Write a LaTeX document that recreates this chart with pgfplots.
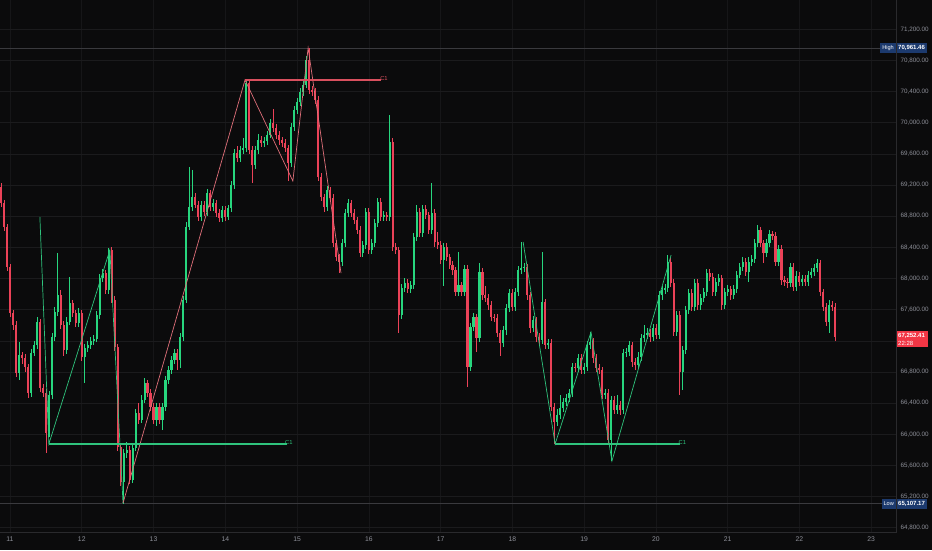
\documentclass[border=0pt]{standalone}
\usepackage{pgfplots}
\usepackage{pgfplotstable}
\pgfplotsset{compat=1.18}
\usepackage{fontspec}
\setmainfont{Liberation Sans}
\definecolor{bg}{HTML}{0B0B0C}
\definecolor{upc}{HTML}{27D67E}
\definecolor{dnc}{HTML}{EB4258}
\definecolor{gridc}{HTML}{1B1B1D}
\definecolor{vgridc}{HTML}{161618}
\definecolor{borderc}{HTML}{2A2A2D}
\definecolor{lblc}{HTML}{8E9099}
\definecolor{zzg}{HTML}{2FC47D}
\definecolor{zzr}{HTML}{E0707A}
\definecolor{c1r}{HTML}{D9505E}
\definecolor{navy}{HTML}{1C3A6E}
\definecolor{lastc}{HTML}{F23645}
\definecolor{hlc}{HTML}{3A3A3E}

\pgfplotstableread{
t o h l c
-3 69175 69230 68920 68969
-2 68969 69010 68610 68661
-1 68661 68700 68100 68147
0 68147 68190 67500 67557
1 67557 67600 67340 67403
2 67403 67450 66730 66786
3 66786 67180 66700 67017
4 67017 67060 66900 66979
5 66979 67030 66800 66863
6 66863 66900 66470 66530
7 66530 67100 66480 67043
8 67043 67200 67000 67146
9 67146 67500 67100 67441
10 67441 67480 66540 66594
11 66594 66650 66480 66530
12 66530 66580 65759 66016
13 66016 66560 65960 66504
14 66504 67300 66450 67249
15 67249 67640 67200 67570
16 67570 68327 67520 67788
17 67788 67850 67350 67403
18 67403 67450 67000 67082
19 67082 67500 67030 67441
20 67441 68019 67400 67685
21 67685 67730 67500 67557
22 67557 67600 67380 67428
23 67428 67620 67380 67557
24 67557 67600 66940 66992
25 66992 67160 66658 67107
26 67107 67200 67050 67146
27 67146 67250 67100 67197
28 67197 67270 67150 67223
29 67223 67580 67180 67531
30 67531 68060 67480 68006
31 68006 68120 67950 68070
32 68070 68110 67800 67852
33 67852 68391 67800 68366
34 68366 68400 67680 67724
35 67724 67770 67070 67120
36 67120 67160 65790 65836
37 65836 65880 65330 65387
38 65387 65810 65107 65759
39 65759 65900 65700 65798
40 65798 65850 65360 65412
41 65412 65880 65370 65823
42 65823 66330 65780 66273
43 66273 66400 66130 66183
44 66183 66500 66140 66440
45 66440 66720 66400 66658
46 66658 66700 66480 66530
47 66530 66580 66300 66350
48 66350 66400 66130 66183
49 66183 66400 66100 66350
50 66350 66400 66130 66183
51 66183 66400 66050 66350
52 66350 66750 66300 66696
53 66696 66880 66650 66825
54 66825 67000 66780 66953
55 66953 67100 66900 67043
56 67043 67090 66820 66953
57 66953 67300 66850 67249
58 67249 67780 67200 67724
59 67724 68720 67680 68661
60 68661 69432 68620 68918
61 68918 69393 68870 69046
62 69046 69100 68900 68944
63 68944 69000 68740 68790
64 68790 69000 68740 68944
65 68944 69000 68800 68854
66 68854 69150 68800 69098
67 69098 69140 68870 68918
68 68918 69020 68870 68969
69 68969 69010 68790 68841
70 68841 68890 68720 68777
71 68777 68930 68720 68879
72 68879 68930 68740 68790
73 68790 68950 68750 68905
74 68905 69250 68860 69200
75 69200 69660 69150 69611
76 69611 69700 69500 69547
77 69547 69700 69500 69650
78 69650 69800 69600 69676
79 69676 70549 69630 70510
80 70510 70540 69600 69650
81 69650 69700 69230 69457
82 69457 69700 69400 69650
83 69650 69850 69600 69778
84 69778 69830 69690 69740
85 69740 69820 69690 69765
86 69765 69900 69720 69842
87 69842 70050 69800 69997
88 69997 70180 69880 69932
89 69932 69980 69790 69842
90 69842 69890 69720 69778
91 69778 69820 69690 69740
92 69740 69790 69620 69676
93 69676 69720 69252 69483
94 69483 70000 69430 69945
95 69945 70220 69900 70164
96 70164 70320 70110 70266
97 70266 70450 70220 70395
98 70395 70540 70340 70485
99 70485 70860 70440 70806
100 70806 70961 70370 70420
101 70420 70470 70340 70395
102 70395 70440 70240 70292
103 70292 70340 69250 69303
104 69303 69350 68990 69046
105 69046 69090 68860 68918
106 68918 69190 68870 69136
107 69136 69180 68980 69033
108 69033 69080 68400 68456
109 68456 68500 68220 68276
110 68276 68320 68070 68212
111 68212 68510 68160 68456
112 68456 68890 68400 68841
113 68841 69020 68790 68969
114 68969 69010 68790 68841
115 68841 68890 68700 68751
116 68751 68790 68570 68623
117 68623 68670 68270 68327
118 68327 68480 68270 68430
119 68430 68900 68380 68854
120 68854 68900 68310 68366
121 68366 68510 68310 68456
122 68456 68760 68400 68712
123 68712 69030 68660 68982
124 68982 69030 68740 68790
125 68790 68870 68740 68815
126 68815 68860 68740 68790
127 68790 70099 68740 69753
128 69753 69800 68350 68404
129 68404 68450 68310 68366
130 68366 68410 67300 67531
131 67531 67930 67480 67878
132 67878 68000 67830 67942
133 67942 67990 67810 67865
134 67865 67970 67810 67916
135 67916 68580 67870 68533
136 68533 68950 68480 68854
137 68854 68900 68530 68584
138 68584 68950 68530 68892
139 68892 68940 68760 68815
140 68815 68860 68570 68623
141 68623 69226 68570 68841
142 68841 68890 68410 68469
143 68469 68600 68380 68430
144 68430 68480 68180 68237
145 68237 68450 67900 68404
146 68404 68450 68220 68276
147 68276 68320 68120 68173
148 68173 68220 68050 68109
149 68109 68150 67770 67826
150 67826 68340 67770 67916
151 67916 67960 67770 67826
152 67826 68170 67770 68122
153 68122 68170 66607 66863
154 66863 67430 66810 67377
155 67377 67560 67320 67505
156 67505 67550 67060 67236
157 67236 68200 67180 68083
158 68083 68130 67730 67788
159 67788 67900 67700 67749
160 67749 67800 67600 67660
161 67660 67710 67450 67505
162 67505 67550 67440 67493
163 67493 67540 67250 67300
164 67300 67340 67000 67172
165 67172 67390 67120 67339
166 67339 67670 67280 67621
167 67621 67870 67570 67814
168 67814 67860 67580 67634
169 67634 67880 67580 67826
170 67826 68160 67780 68109
171 68109 68469 68060 68135
172 68135 68200 68080 68147
173 68147 68190 67730 67788
174 67788 67830 67300 67364
175 67364 67520 67310 67467
176 67467 67510 67190 67249
177 67249 67300 67150 67210
178 67210 68340 67160 67698
179 67698 67740 67090 67146
180 67146 67220 67100 67172
181 67172 67220 66300 66350
182 66350 66400 65875 66157
183 66157 66330 66100 66247
184 66247 66500 66200 66337
185 66337 66470 66290 66414
186 66414 66520 66360 66465
187 66465 66580 66410 66530
188 66530 66920 66480 66863
189 66863 66910 66800 66851
190 66851 67030 66800 66979
191 66979 67030 66770 66825
192 66825 66920 66770 66863
193 66863 67200 66810 67146
194 67146 67313 67090 67184
195 67184 67230 66920 66979
196 66979 67030 66800 66851
197 66851 66900 66770 66825
198 66825 66870 66450 66504
199 66504 66580 66450 66530
200 66530 66580 65870 65926
201 65926 66490 65656 66440
202 66440 66490 66260 66311
203 66311 66500 66260 66375
204 66375 66430 66250 66311
205 66311 67100 66260 67043
206 67043 67110 66990 67056
207 67056 67200 67000 67146
208 67146 67190 66870 66928
209 66928 66980 66830 66889
210 66889 67050 66840 66992
211 66992 67290 66940 67236
212 67236 67400 67190 67274
213 67274 67360 67220 67300
214 67300 67350 67190 67249
215 67249 67420 67200 67364
216 67364 67410 67220 67274
217 67274 67840 67220 67788
218 67788 67910 67730 67852
219 67852 67930 67800 67878
220 67878 68302 67830 68212
221 68212 68260 67890 67942
222 67942 67990 67260 67313
223 67313 67580 67260 67531
224 67531 67580 66504 66799
225 66799 67130 66570 67082
226 67082 67650 67030 67595
227 67595 67870 67550 67814
228 67814 67860 67580 67634
229 67634 67990 67580 67942
230 67942 67990 67600 67660
231 67660 67800 67600 67749
232 67749 67880 67700 67826
233 67826 68120 67780 68070
234 68070 68120 67970 68019
235 68019 68070 67770 67826
236 67826 68010 67780 67955
237 67955 68060 67900 68006
238 68006 68050 67600 67660
239 67660 67880 67610 67826
240 67826 67920 67780 67865
241 67865 67910 67730 67788
242 67788 67920 67740 67865
243 67865 68100 67820 68045
244 68045 68200 68000 68147
245 68147 68270 68100 68212
246 68212 68260 68030 68083
247 68083 68270 67950 68212
248 68212 68300 68160 68250
249 68250 68510 68200 68456
250 68456 68687 68400 68623
251 68623 68660 68400 68456
252 68456 68500 68200 68327
253 68327 68510 68280 68456
254 68456 68620 68400 68571
255 68571 68610 68490 68546
256 68546 68600 68160 68212
257 68212 68430 68160 68379
258 68379 68430 67920 67980
259 67980 68030 67900 67955
260 67955 68000 67880 67942
261 67942 68200 67890 68147
262 68147 68200 67840 67891
263 67891 68090 67840 68032
264 68032 68080 67900 67955
265 67955 68050 67900 67993
266 67993 68040 67900 67955
267 67955 68100 67900 68045
268 68045 68130 68000 68083
269 68083 68190 68030 68135
270 68135 68250 68080 68199
271 68199 68240 67770 67826
272 67826 67870 67580 67634
273 67634 67680 67390 67441
274 67441 67720 67300 67660
275 67660 67710 67580 67634
276 67634 67680 67200 67252
}\candles

\begin{document}
\begin{tikzpicture}
\fill[bg] (0pt,-18pt) rectangle (932pt,532pt);
\begin{axis}[
  at={(0pt,0pt)}, anchor=south west,
  scale only axis, width=896pt, height=532pt,
  xmin=-3.34, xmax=296.3, ymin=64745, ymax=71576,
  axis line style={draw=none},
  clip mode=individual,
  major tick length=0pt,
  xtick={0,24,...,288},
  xticklabels={11,12,13,14,15,16,17,18,19,20,21,22,23},
  ytick={64800,65200,65600,66000,66400,66800,67600,68000,68400,68800,69200,69600,70000,70400,70800,71200},
  extra y ticks={67200},
  extra y tick labels={},
  extra y tick style={grid=major},
  scaled y ticks=false,
  yticklabel pos=right,
  xmajorgrids, ymajorgrids,
  x grid style={vgridc, line width=0.6pt},
  y grid style={gridc, line width=0.6pt},
  /pgf/number format/.cd, fixed, fixed zerofill, precision=2, 1000 sep={,}, assume math mode=true,
  /pgfplots/.cd,
  yticklabel style={font=\fontsize{6.3}{7.5}\selectfont, text=lblc, anchor=west, xshift=1pt},
  xticklabel style={font=\fontsize{6.8}{8}\selectfont, text=lblc, yshift=-1.5pt},
]
% high / low reference lines
\addplot[hlc, line width=0.6pt, forget plot] coordinates {(-3.34,70961.46) (296.3,70961.46)};
\addplot[hlc, line width=0.6pt, forget plot] coordinates {(-3.34,65107.17) (296.3,65107.17)};
% wicks up
\addplot[draw=none, mark=none, forget plot,
  restrict expr to domain={\thisrow{c}-\thisrow{o}}{0:100000},
  error bars/.cd, y dir=both, y explicit, error mark=none,
  error bar style={draw=upc, line width=0.7pt, solid}]
  table[x=t, y=c, y error plus expr=\thisrow{h}-\thisrow{c}, y error minus expr=\thisrow{c}-\thisrow{l}] {\candles};
% wicks down
\addplot[draw=none, mark=none, forget plot,
  restrict expr to domain={\thisrow{c}-\thisrow{o}}{-100000:-0.001},
  error bars/.cd, y dir=both, y explicit, error mark=none,
  error bar style={draw=dnc, line width=0.7pt, solid}]
  table[x=t, y=c, y error plus expr=\thisrow{h}-\thisrow{c}, y error minus expr=\thisrow{c}-\thisrow{l}] {\candles};
% bodies up
\addplot[draw=none, mark=none, forget plot,
  restrict expr to domain={\thisrow{c}-\thisrow{o}}{0:100000},
  error bars/.cd, y dir=minus, y explicit, error mark=none,
  error bar style={draw=upc, line width=2.1pt, solid, line cap=butt}]
  table[x=t, y=c, y error expr=\thisrow{c}-\thisrow{o}] {\candles};
% bodies down
\addplot[draw=none, mark=none, forget plot,
  restrict expr to domain={\thisrow{c}-\thisrow{o}}{-100000:-0.001},
  error bars/.cd, y dir=plus, y explicit, error mark=none,
  error bar style={draw=dnc, line width=2.1pt, solid, line cap=butt}]
  table[x=t, y=c, y error expr=\thisrow{o}-\thisrow{c}] {\candles};
% zigzags
\addplot[zzg, line width=0.7pt, forget plot] coordinates {(10.0,68790) (13.0,65875) (33.4,68366) (37.8,65117)};
\addplot[zzr, line width=0.7pt, forget plot] coordinates {(37.8,65117) (78.6,70549) (94.6,69252) (99.7,70960) (110.7,68070)};
\addplot[zzg, line width=0.7pt, forget plot] coordinates {(171.6,68469) (182.3,65875) (194.3,67313) (201.3,65656) (221.1,68302)};
% C1 levels
\addplot[zzg, line width=1.1pt, forget plot] coordinates {(13.0,65875) (92.6,65875)};
\addplot[c1r, line width=1.1pt, forget plot] coordinates {(78.6,70549) (124.1,70549)};
\addplot[zzg, line width=1.1pt, forget plot] coordinates {(182.3,65875) (224.1,65875)};
\node[text=zzg, font=\fontsize{5.8}{6}\selectfont, anchor=south west, inner sep=0.5pt] at (axis cs:91.8,65860) {C1};
\node[text=c1r, font=\fontsize{5.8}{6}\selectfont, anchor=south west, inner sep=0.5pt] at (axis cs:123.6,70534) {C1};
\node[text=zzg, font=\fontsize{5.8}{6}\selectfont, anchor=south west, inner sep=0.5pt] at (axis cs:223.4,65860) {C1};
% boxes on the price scale
\node[fill=navy, text=white, font=\fontsize{5.6}{6}\selectfont, anchor=east, inner xsep=2pt, inner ysep=1.8pt, minimum height=10pt] at (axis cs:296.3,70961.46) {High};
\node[fill=navy, text=white, font=\fontsize{6}{6}\selectfont\bfseries, anchor=west, inner xsep=2pt, inner ysep=1.8pt, minimum height=10pt] at (axis cs:296.3,70961.46) {70,961.46};
\node[fill=navy, text=white, font=\fontsize{5.6}{6}\selectfont, anchor=east, inner xsep=2pt, inner ysep=1.8pt, minimum height=10pt] at (axis cs:296.3,65107.17) {Low};
\node[fill=navy, text=white, font=\fontsize{6}{6}\selectfont\bfseries, anchor=west, inner xsep=2pt, inner ysep=1.8pt, minimum height=10pt] at (axis cs:296.3,65107.17) {65,107.17};
\node[fill=lastc, text=white, font=\fontsize{6}{8.5}\selectfont, anchor=north west, align=left, inner xsep=2pt, inner ysep=1.5pt, text width=28pt, yshift=5.5pt] at (axis cs:296.3,67252.41) {\textbf{67,252.41}\\22:28};
% borders
\draw[borderc, line width=0.6pt] (rel axis cs:0,0) -- (rel axis cs:1,0) -- (rel axis cs:1,1);
\end{axis}
\pgfresetboundingbox
\path[use as bounding box] (0pt,-18pt) rectangle (932pt,532pt);
\end{tikzpicture}
\end{document}
